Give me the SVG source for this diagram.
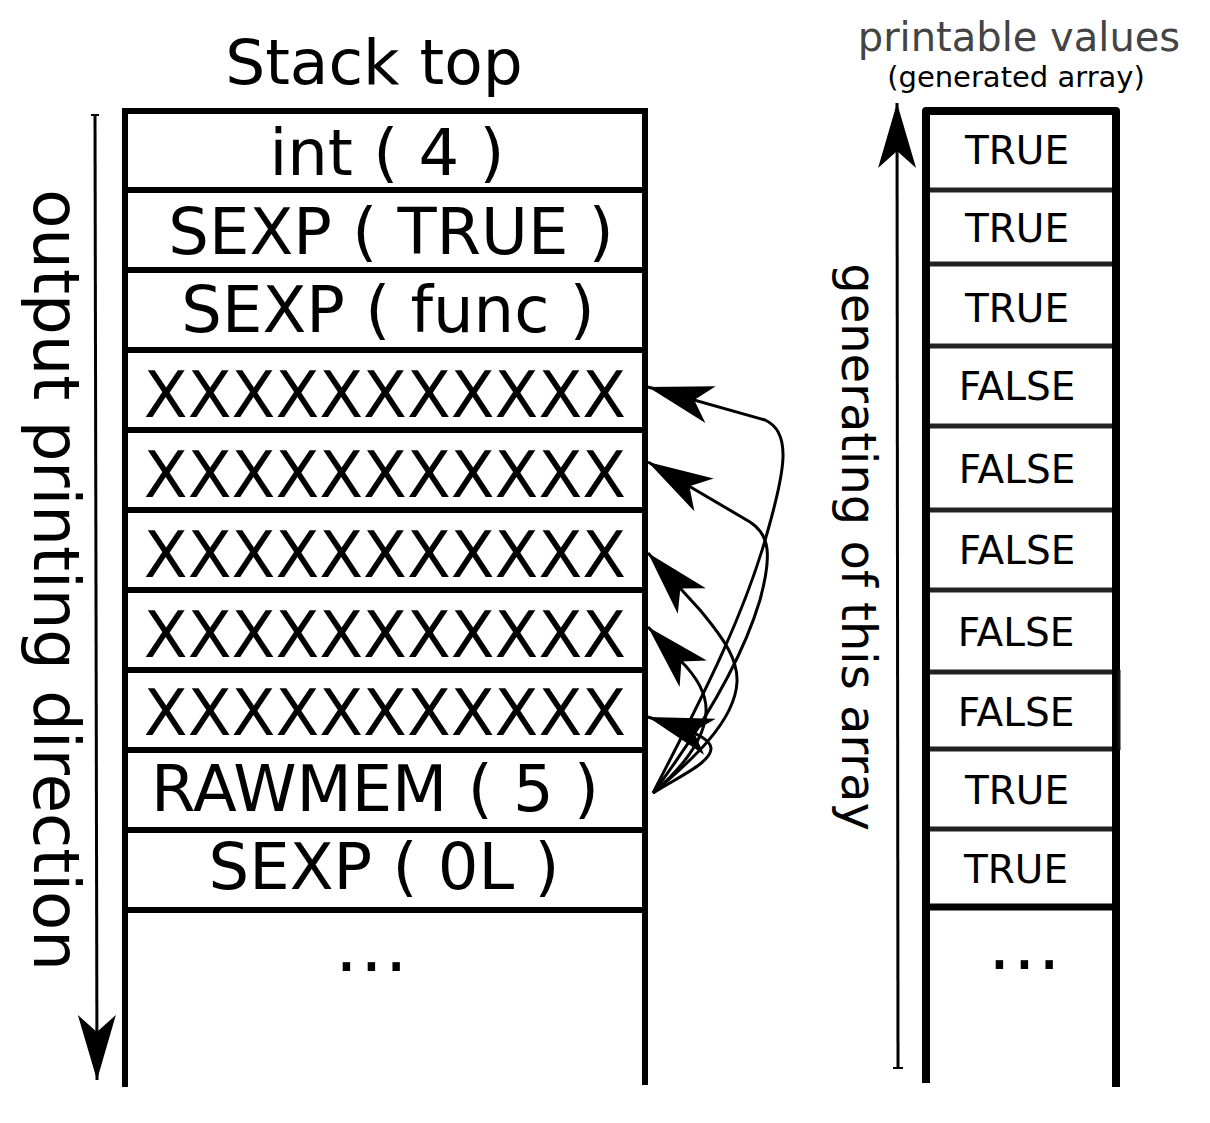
<svg xmlns="http://www.w3.org/2000/svg" width="1210" height="1123" viewBox="0 0 1210 1123">
<style>
text{font-family:"DejaVu Sans","Liberation Sans",sans-serif;fill:#000}
.big{font-size:64px;text-anchor:middle}
.val{font-size:39px;text-anchor:middle}
.dots{font-size:72px;letter-spacing:2px}
.frame{stroke:#000;stroke-width:6;fill:none}
.sep{stroke:#222;stroke-width:5;fill:none}
.conn{stroke:#000;stroke-width:3;fill:none}
</style>
<defs>
<marker id="ah" markerUnits="userSpaceOnUse" orient="auto" markerWidth="70" markerHeight="44" refX="0" refY="0" viewBox="-66 -22 68 44" overflow="visible">
<path d="M0,0 L-65,-19 L-48,0 L-65,19 Z" fill="#000"/>
</marker>
</defs>
<rect width="1210" height="1123" fill="#fff"/>

<text x="374" y="84" font-size="63" text-anchor="middle">Stack top</text>
<text x="1019" y="51" font-size="40" text-anchor="middle" style="fill:#444">printable values</text>
<text x="1016" y="87" font-size="29" text-anchor="middle">(generated array)</text>

<g id="stack-frame">
<path class="frame" d="M125,1087 V108 M645,1085 V108 M122,111 H648"/>
</g>
<g id="s1"><line class="frame" x1="125" y1="190" x2="645" y2="190"/><text class="big" x="387" y="175">int ( 4 )</text></g>
<g id="s2"><line class="frame" x1="125" y1="270" x2="645" y2="270"/><text class="big" x="391" y="254">SEXP ( TRUE )</text></g>
<g id="s3"><line class="frame" x1="125" y1="350" x2="645" y2="350"/><text class="big" x="388" y="332">SEXP ( func )</text></g>
<g id="s4"><line class="frame" x1="125" y1="430" x2="645" y2="430"/><text class="big" x="385" y="417">XXXXXXXXXXX</text></g>
<g id="s5"><line class="frame" x1="125" y1="510" x2="645" y2="510"/><text class="big" x="385" y="497">XXXXXXXXXXX</text></g>
<g id="s6"><line class="frame" x1="125" y1="590" x2="645" y2="590"/><text class="big" x="385" y="577">XXXXXXXXXXX</text></g>
<g id="s7"><line class="frame" x1="125" y1="670" x2="645" y2="670"/><text class="big" x="385" y="657">XXXXXXXXXXX</text></g>
<g id="s8"><line class="frame" x1="125" y1="750" x2="645" y2="750"/><text class="big" x="385" y="735">XXXXXXXXXXX</text></g>
<g id="s9"><line class="frame" x1="125" y1="830" x2="645" y2="830"/><text class="big" x="375" y="811">RAWMEM ( 5 )</text></g>
<g id="s10"><line class="frame" x1="125" y1="910" x2="645" y2="910"/><text class="big" x="384" y="889">SEXP ( 0L )</text></g>
<g id="s11"><text class="dots" x="335" y="971">...</text></g>

<g id="array-frame">
<path d="M926,1083 V111 H1116 V1087" stroke="#000" stroke-width="8" fill="none" stroke-linejoin="round"/>
<line x1="1119" y1="670" x2="1119" y2="750" stroke="#111" stroke-width="3"/>
</g>
<g id="a1"><text class="val" x="1017" y="164">TRUE</text></g>
<g id="a2"><line class="sep" x1="930" y1="190" x2="1112" y2="190"/><text class="val" x="1017" y="242">TRUE</text></g>
<g id="a3"><line class="sep" x1="930" y1="264" x2="1112" y2="264"/><text class="val" x="1017" y="322">TRUE</text></g>
<g id="a4"><line class="sep" x1="930" y1="346" x2="1112" y2="346"/><text class="val" x="1017" y="400">FALSE</text></g>
<g id="a5"><line class="sep" x1="930" y1="426" x2="1112" y2="426"/><text class="val" x="1017" y="483">FALSE</text></g>
<g id="a6"><line class="sep" x1="930" y1="510" x2="1112" y2="510"/><text class="val" x="1017" y="564">FALSE</text></g>
<g id="a7"><line class="sep" x1="930" y1="590" x2="1112" y2="590"/><text class="val" x="1016" y="646">FALSE</text></g>
<g id="a8"><line class="sep" x1="930" y1="672" x2="1112" y2="672"/><text class="val" x="1016" y="726">FALSE</text></g>
<g id="a9"><line class="sep" x1="930" y1="749" x2="1112" y2="749"/><text class="val" x="1017" y="804">TRUE</text></g>
<g id="a10"><line class="sep" x1="930" y1="829" x2="1112" y2="829"/><text class="val" x="1016" y="883">TRUE</text></g>
<g id="a11"><line x1="926" y1="907" x2="1116" y2="907" stroke="#000" stroke-width="7"/><text class="dots" x="988" y="969">...</text></g>

<g id="labels">
<text transform="translate(34,580) rotate(90)" font-size="64" text-anchor="middle">output printing direction</text>
<text transform="translate(842,547) rotate(90)" font-size="48" text-anchor="middle">generating of this array</text>
</g>

<g id="connectors">
<line x1="91" y1="115" x2="99" y2="115" stroke="#000" stroke-width="2"/>
<line class="conn" x1="95" y1="115" x2="97" y2="1080" stroke-width="2.5" marker-end="url(#ah)"/>
<line x1="893" y1="1068" x2="903" y2="1068" stroke="#000" stroke-width="2"/>
<line class="conn" x1="898" y1="1068" x2="897" y2="103" stroke-width="2.5" marker-end="url(#ah)"/>
<path class="conn" d="M653,793 C690,720 742,625 768,530 C785,470 792,432 765,420 L648,387" marker-end="url(#ah)"/>
<path class="conn" d="M653,793 C700,730 742,660 760,600 C772,555 770,535 750,522 L648,462" marker-end="url(#ah)"/>
<path class="conn" d="M653,793 C690,762 735,722 737,682 C738,660 725,640 700,610 L648,553" marker-end="url(#ah)"/>
<path class="conn" d="M653,793 C680,770 705,740 706,712 C707,695 697,677 680,660 L648,627" marker-end="url(#ah)"/>
<path class="conn" d="M653,793 C680,776 712,762 711,748 C710,738 695,732 648,717" marker-end="url(#ah)"/>
</g>
</svg>
